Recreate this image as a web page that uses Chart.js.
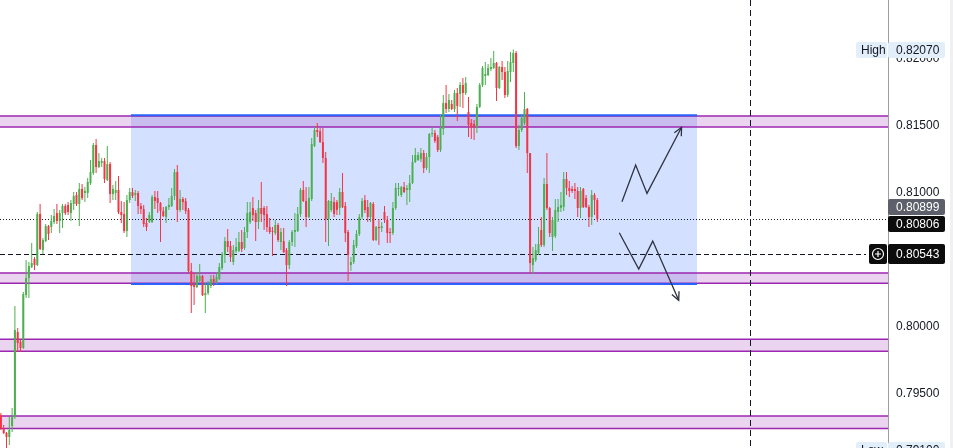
<!DOCTYPE html>
<html>
<head>
<meta charset="utf-8">
<script src="https://cdn.jsdelivr.net/npm/chart.js@4.4.1/dist/chart.umd.min.js"></script>
<style>
  body { margin: 0; background: #fff; }
  #wrap { width: 953px; height: 448px; position: relative; }
</style>
</head>
<body>
<div id="wrap"><canvas id="chart"></canvas></div>
<script>
// candle prices, one entry per bar, left to right
const opens = [
  0.79343,0.79246,0.79209,0.79179,0.79261,0.79328,0.79962,0.79888,0.79843,0.80238,
  0.80365,0.80447,0.80507,0.80462,0.80843,0.80574,0.80641,0.80753,0.80746,0.80783,
  0.80850,0.80791,0.80850,0.80903,0.80910,0.80850,0.80918,0.80985,0.80918,0.81030,
  0.81000,0.81000,0.81074,0.81149,0.81358,0.81194,0.81224,0.81238,0.81097,0.81216,
  0.80992,0.81000,0.81022,0.80858,0.80843,0.80716,0.80947,0.81007,0.80985,0.81000,
  0.80903,0.80880,0.80776,0.80783,0.80783,0.80970,0.80962,0.80925,0.80865,0.80821,
  0.80895,0.80903,0.80977,0.81156,0.80873,0.80955,0.80940,0.80873,0.80418,0.80328,
  0.80298,0.80343,0.80380,0.80238,0.80253,0.80306,0.80358,0.80335,0.80358,0.80440,
  0.80537,0.80641,0.80604,0.80485,0.80567,0.80567,0.80634,0.80589,0.80709,0.80783,
  0.80888,0.80850,0.80783,0.80888,0.80888,0.80843,0.80746,0.80716,0.80701,0.80761,
  0.80634,0.80641,0.80574,0.80462,0.80634,0.80709,0.80716,0.80843,0.81022,0.80940,
  0.80821,0.80955,0.81350,0.81470,0.81462,0.81380,0.81261,0.80806,0.80873,0.80932,
  0.80932,0.80888,0.81007,0.80903,0.80709,0.80462,0.80485,0.80604,0.80694,0.80821,
  0.80947,0.80895,0.80821,0.80918,0.80649,0.80746,0.80738,0.80858,0.80798,0.80709,
  0.80701,0.80888,0.81030,0.80985,0.81044,0.81022,0.81022,0.81074,0.81231,0.81246,
  0.81253,0.81298,0.81186,0.81268,0.81440,0.81448,0.81418,0.81321,0.81477,0.81671,
  0.81627,0.81664,0.81627,0.81746,0.81739,0.81806,0.81746,0.81604,0.81522,0.81515,
  0.81492,0.81642,0.81806,0.81873,0.81880,0.81925,0.81933,0.81970,0.81783,0.81940,
  0.81903,0.81731,0.81903,0.81970,0.82044,0.81350,0.81470,0.81522,0.81627,0.81298,
  0.80462,0.80500,0.80552,0.80724,0.80612,0.81067,0.80888,0.80671,0.80679,0.80858,
  0.80888,0.80895,0.81104,0.81037,0.81030,0.81030,0.81015,0.80888,0.81030,0.80962,
  0.80895,0.80821,0.80985,0.80947
];
const highs = [
  0.79358,0.79268,0.79216,0.79328,0.79395,0.80156,0.79992,0.79903,0.80261,0.80500,
  0.80485,0.80627,0.80522,0.80858,0.80918,0.80664,0.80768,0.80761,0.80835,0.80880,
  0.80918,0.80873,0.80918,0.80918,0.80932,0.80947,0.81007,0.81007,0.81074,0.81067,
  0.81044,0.81112,0.81246,0.81373,0.81403,0.81298,0.81261,0.81261,0.81350,0.81231,
  0.81059,0.81089,0.81127,0.80940,0.80932,0.80985,0.81037,0.81037,0.81022,0.81015,
  0.80925,0.80910,0.80813,0.80858,0.80985,0.81015,0.81015,0.80932,0.80895,0.80903,
  0.80962,0.81037,0.81179,0.81209,0.81022,0.80970,0.80962,0.80888,0.80477,0.80403,
  0.80410,0.80470,0.80388,0.80328,0.80343,0.80388,0.80388,0.80410,0.80477,0.80559,
  0.80671,0.80731,0.80641,0.80612,0.80664,0.80709,0.80724,0.80746,0.80932,0.80932,
  0.80970,0.80873,0.80947,0.81082,0.80903,0.80903,0.80813,0.80746,0.80798,0.80776,
  0.80738,0.80738,0.80589,0.80649,0.80724,0.80850,0.80895,0.81037,0.81089,0.81044,
  0.81044,0.81410,0.81492,0.81522,0.81485,0.81485,0.81306,0.80947,0.81000,0.80970,
  0.80947,0.81037,0.81149,0.80932,0.80724,0.80522,0.80649,0.80724,0.80843,0.80962,
  0.80985,0.80947,0.80932,0.80932,0.80753,0.80806,0.80783,0.80903,0.80828,0.80738,
  0.80932,0.81074,0.81074,0.81052,0.81082,0.81059,0.81134,0.81283,0.81335,0.81306,
  0.81335,0.81321,0.81298,0.81448,0.81492,0.81470,0.81433,0.81582,0.81731,0.81806,
  0.81739,0.81694,0.81768,0.81783,0.81828,0.81858,0.81865,0.81716,0.81552,0.81544,
  0.81664,0.81821,0.81948,0.81977,0.81962,0.82007,0.82059,0.81977,0.81948,0.81985,
  0.81940,0.81985,0.82052,0.82070,0.82059,0.81507,0.81582,0.81753,0.81634,0.81298,
  0.80597,0.80619,0.80746,0.80821,0.81112,0.81298,0.80895,0.80821,0.80955,0.80955,
  0.81007,0.81156,0.81156,0.81089,0.81052,0.81074,0.81044,0.81044,0.81037,0.80985,
  0.80910,0.81022,0.81000,0.80962
];
const lows = [
  0.79231,0.79201,0.79097,0.79119,0.79216,0.79313,0.79813,0.79813,0.79835,0.80216,
  0.80216,0.80440,0.80425,0.80455,0.80574,0.80544,0.80634,0.80649,0.80701,0.80768,
  0.80768,0.80701,0.80738,0.80835,0.80835,0.80791,0.80873,0.80903,0.80753,0.80947,
  0.80932,0.80962,0.81059,0.81134,0.81149,0.81186,0.81194,0.81074,0.81089,0.80925,
  0.80947,0.80947,0.80843,0.80776,0.80701,0.80671,0.80925,0.80962,0.80940,0.80843,
  0.80843,0.80746,0.80716,0.80776,0.80776,0.80880,0.80850,0.80634,0.80821,0.80776,
  0.80873,0.80895,0.80947,0.80783,0.80858,0.80873,0.80843,0.80403,0.80104,0.80164,
  0.80291,0.80335,0.80231,0.80104,0.80238,0.80291,0.80306,0.80321,0.80350,0.80425,
  0.80477,0.80559,0.80485,0.80462,0.80552,0.80559,0.80559,0.80574,0.80664,0.80768,
  0.80791,0.80641,0.80731,0.80783,0.80724,0.80709,0.80694,0.80530,0.80686,0.80634,
  0.80574,0.80552,0.80306,0.80432,0.80604,0.80597,0.80709,0.80821,0.80932,0.80746,
  0.80813,0.80940,0.81343,0.81418,0.81373,0.81224,0.80634,0.80604,0.80858,0.80821,
  0.80835,0.80835,0.80888,0.80634,0.80343,0.80418,0.80470,0.80589,0.80679,0.80806,
  0.80850,0.80783,0.80783,0.80641,0.80641,0.80612,0.80709,0.80776,0.80627,0.80627,
  0.80686,0.80873,0.80977,0.80970,0.81000,0.80910,0.80932,0.81067,0.81224,0.81238,
  0.81231,0.81149,0.81171,0.81149,0.81418,0.81373,0.81306,0.81306,0.81433,0.81597,
  0.81604,0.81619,0.81604,0.81537,0.81642,0.81634,0.81731,0.81418,0.81403,0.81395,
  0.81448,0.81634,0.81791,0.81806,0.81873,0.81910,0.81925,0.81686,0.81776,0.81843,
  0.81709,0.81716,0.81828,0.81903,0.81335,0.81321,0.81455,0.81507,0.81149,0.80403,
  0.80395,0.80485,0.80537,0.80597,0.80597,0.80873,0.80671,0.80567,0.80664,0.80783,
  0.80858,0.80865,0.80985,0.80970,0.81000,0.80955,0.80821,0.80813,0.80888,0.80888,
  0.80746,0.80761,0.80835,0.80783
];
const closes = [
  0.79246,0.79209,0.79179,0.79231,0.79328,0.79977,0.79880,0.79843,0.80246,0.80365,
  0.80455,0.80477,0.80462,0.80843,0.80582,0.80649,0.80753,0.80694,0.80791,0.80828,
  0.80791,0.80850,0.80903,0.80850,0.80858,0.80925,0.80977,0.80918,0.81030,0.80962,
  0.81015,0.81082,0.81156,0.81358,0.81194,0.81238,0.81238,0.81104,0.81216,0.80992,
  0.81030,0.81022,0.80858,0.80835,0.80716,0.80947,0.81007,0.80977,0.81000,0.80903,
  0.80880,0.80768,0.80746,0.80835,0.80970,0.80940,0.80925,0.80865,0.80828,0.80895,
  0.80910,0.80977,0.81156,0.80873,0.80955,0.80932,0.80865,0.80418,0.80306,0.80298,
  0.80380,0.80380,0.80238,0.80253,0.80313,0.80358,0.80335,0.80373,0.80447,0.80544,
  0.80641,0.80597,0.80522,0.80574,0.80597,0.80634,0.80582,0.80709,0.80850,0.80858,
  0.80835,0.80783,0.80888,0.80843,0.80835,0.80746,0.80709,0.80709,0.80761,0.80649,
  0.80709,0.80559,0.80462,0.80634,0.80709,0.80724,0.80843,0.81022,0.80940,0.80821,
  0.80962,0.81365,0.81470,0.81455,0.81380,0.81261,0.80806,0.80940,0.80940,0.80843,
  0.80873,0.81007,0.80895,0.80701,0.80537,0.80485,0.80612,0.80694,0.80821,0.80940,
  0.80873,0.80821,0.80925,0.80649,0.80746,0.80738,0.80753,0.80798,0.80701,0.80701,
  0.80888,0.81037,0.81037,0.81044,0.81007,0.81037,0.81074,0.81231,0.81283,0.81283,
  0.81298,0.81186,0.81268,0.81440,0.81448,0.81388,0.81321,0.81485,0.81671,0.81627,
  0.81694,0.81627,0.81746,0.81649,0.81806,0.81746,0.81821,0.81507,0.81492,0.81492,
  0.81642,0.81806,0.81933,0.81888,0.81933,0.81940,0.81970,0.81783,0.81940,0.81903,
  0.81731,0.81910,0.81977,0.82044,0.81350,0.81470,0.81559,0.81627,0.81298,0.80477,
  0.80515,0.80574,0.80619,0.80612,0.81067,0.80888,0.80701,0.80798,0.80873,0.80895,
  0.80910,0.81104,0.81037,0.81015,0.81015,0.81015,0.80888,0.81015,0.80895,0.80895,
  0.80821,0.80985,0.80947,0.80806
];

// price axis
const priceMin = 0.79097;
const priceMax = 0.82440;
const priceStep = 0.005;
const hiddenTicks = [0.805];

// bar index range shown
const barMin = -0.32;
const barMax = 316.82;

// drawings
const zones = [[0.81575, 0.81493], [0.80403, 0.80326], [0.79908, 0.79819], [0.79336, 0.79242]];
const rangeBox = { left: 46.46, right: 248.6, top: 0.81580, bottom: 0.80321 };
const lastPrice = 0.80806;
const markPrice = 0.80543;
const sessionLine = 267.5;
const upPathX = [221.8, 226.7, 230.75, 243.1];
const upPathY = [0.80935, 0.81209, 0.80997, 0.81490];
const downPathX = [220.86, 227.8, 232.8, 242.07];
const downPathY = [0.80703, 0.80432, 0.80641, 0.80199];

// right scale tags
const tags = [
  { price: 0.82070, text: '0.82070', title: 'High', bg: '#e3eefb', fg: '#131722', shift: 0 },
  { price: 0.80899, text: '0.80899', bg: '#5d606b', fg: '#ffffff', shift: 0 },
  { price: 0.80806, text: '0.80806', bg: '#0c0c0c', fg: '#ffffff', shift: 5 },
  { price: 0.80543, text: '0.80543', bg: '#0c0c0c', fg: '#ffffff', shift: 0, icon: true },
  { price: 0.79100, text: '0.79100', title: 'Low', bg: '#e3eefb', fg: '#131722', shift: 2 }
];

const UP = '#4caf50';
const DOWN = '#f23645';
const FONT = '12px "Liberation Sans", Arial, sans-serif';

const wicks = opens.map((o, i) => ({ x: i, y: [lows[i], highs[i]] }));
const bodies = opens.map((o, i) => ({ x: i, y: [Math.min(o, closes[i]), Math.max(o, closes[i])] }));
const candleColor = ctx => closes[ctx.dataIndex] >= opens[ctx.dataIndex] ? UP : DOWN;

function hline(ctx, y, x0, x1, dash, color, width) {
  ctx.beginPath();
  ctx.setLineDash(dash);
  ctx.strokeStyle = color;
  ctx.lineWidth = width;
  ctx.moveTo(x0, y);
  ctx.lineTo(x1, y);
  ctx.stroke();
  ctx.setLineDash([]);
}

function arrowHead(ctx, x0, y0, x1, y1) {
  const a = Math.atan2(y1 - y0, x1 - x0);
  const len = 9;
  ctx.beginPath();
  ctx.moveTo(x1 - len * Math.cos(a - 0.45), y1 - len * Math.sin(a - 0.45));
  ctx.lineTo(x1, y1);
  ctx.lineTo(x1 - len * Math.cos(a + 0.45), y1 - len * Math.sin(a + 0.45));
  ctx.stroke();
}

const drawings = {
  id: 'drawings',
  beforeDatasetsDraw(chart) {
    const { ctx, chartArea: area, scales: { x, y } } = chart;
    ctx.save();

    // range box
    const bl = x.getPixelForValue(rangeBox.left);
    const br = x.getPixelForValue(rangeBox.right);
    const bt = y.getPixelForValue(rangeBox.top);
    const bb = y.getPixelForValue(rangeBox.bottom);
    ctx.fillStyle = 'rgba(41, 98, 255, 0.2)';
    ctx.fillRect(bl, bt, br - bl, bb - bt);

    // support / resistance zones
    zones.forEach(z => {
      const t = y.getPixelForValue(z[0]);
      const b = y.getPixelForValue(z[1]);
      ctx.fillStyle = 'rgba(156, 39, 176, 0.2)';
      ctx.fillRect(area.left, t, area.right - area.left, b - t);
      hline(ctx, t, area.left, area.right, [], '#9c27b0', 1.5);
      hline(ctx, b, area.left, area.right, [], '#9c27b0', 1.5);
    });

    hline(ctx, bt, bl, br, [], '#2962ff', 2);
    hline(ctx, bb, bl, br, [], '#2962ff', 2);

    // price lines
    hline(ctx, Math.round(y.getPixelForValue(lastPrice)) + 0.5, area.left, area.right, [1, 2], '#131722', 1);
    hline(ctx, Math.round(y.getPixelForValue(markPrice)) + 0.5, area.left, area.right - 22, [5, 3], '#131722', 1);

    // vertical session line
    const vx = Math.round(x.getPixelForValue(sessionLine)) + 0.5;
    ctx.beginPath();
    ctx.setLineDash([6, 4]);
    ctx.strokeStyle = '#131722';
    ctx.lineWidth = 1;
    ctx.moveTo(vx, area.top);
    ctx.lineTo(vx, area.bottom);
    ctx.stroke();
    ctx.restore();
  },
  afterDatasetsDraw(chart) {
    const { ctx, scales: { x, y } } = chart;
    ctx.save();
    ctx.strokeStyle = '#2f3240';
    ctx.lineWidth = 1.3;
    [[upPathX, upPathY], [downPathX, downPathY]].forEach(([px, py]) => {
      const n = px.length;
      arrowHead(ctx, x.getPixelForValue(px[n - 2]), y.getPixelForValue(py[n - 2]),
        x.getPixelForValue(px[n - 1]), y.getPixelForValue(py[n - 1]));
    });
    ctx.restore();
  },
  afterDraw(chart) {
    const { ctx, chartArea: area, scales: { y } } = chart;
    ctx.save();
    ctx.font = FONT;
    ctx.textBaseline = 'middle';

    // scrollbar strip at the far right
    ctx.fillStyle = '#f0f0f2';
    ctx.fillRect(950, 0, 3, chart.height);

    tags.forEach(t => {
      const yc = Math.round(y.getPixelForValue(t.price)) + t.shift;
      const h = t.icon ? 20 : 16;
      ctx.fillStyle = t.bg;
      ctx.beginPath();
      ctx.roundRect(area.right, yc - h / 2, 57, h, 2);
      ctx.fill();
      ctx.fillStyle = t.fg;
      ctx.fillText(t.text, area.right + 8, yc + 0.5);
      if (t.title) {
        ctx.fillStyle = t.bg;
        ctx.beginPath();
        ctx.roundRect(area.right - 32, yc - h / 2, 31, h, 2);
        ctx.fill();
        ctx.fillStyle = t.fg;
        ctx.fillText(t.title, area.right - 27, yc + 0.5);
      }
      if (t.icon) {
        ctx.fillStyle = t.bg;
        ctx.beginPath();
        ctx.roundRect(area.right - 19, yc - h / 2, 18, h, 2);
        ctx.fill();
        const cx = area.right - 10;
        ctx.strokeStyle = '#ffffff';
        ctx.lineWidth = 1.2;
        ctx.beginPath();
        ctx.arc(cx, yc, 5.5, 0, Math.PI * 2);
        ctx.moveTo(cx - 3, yc);
        ctx.lineTo(cx + 3, yc);
        ctx.moveTo(cx, yc - 3);
        ctx.lineTo(cx, yc + 3);
        ctx.stroke();
      }
    });
    ctx.restore();
  }
};

new Chart(document.getElementById('chart'), {
  type: 'bar',
  data: {
    datasets: [
      {
        type: 'line',
        data: upPathX.map((v, i) => ({ x: v, y: upPathY[i] })),
        borderColor: '#2f3240',
        borderWidth: 1.3,
        pointRadius: 0,
        tension: 0
      },
      {
        type: 'line',
        data: downPathX.map((v, i) => ({ x: v, y: downPathY[i] })),
        borderColor: '#2f3240',
        borderWidth: 1.3,
        pointRadius: 0,
        tension: 0
      },
      {
        data: bodies,
        backgroundColor: candleColor,
        barThickness: 2,
        minBarLength: 1,
        grouped: false,
        inflateAmount: 0,
        borderWidth: 0
      },
      {
        data: wicks,
        backgroundColor: candleColor,
        barThickness: 1,
        grouped: false,
        inflateAmount: 0,
        borderWidth: 0
      }
    ]
  },
  options: {
    responsive: true,
    maintainAspectRatio: false,
    animation: false,
    devicePixelRatio: 1,
    layout: { padding: 0 },
    plugins: { legend: { display: false }, tooltip: { enabled: false } },
    scales: {
      x: {
        type: 'linear',
        display: false,
        min: barMin,
        max: barMax,
        offset: false
      },
      y: {
        position: 'right',
        min: priceMin,
        max: priceMax,
        grid: { display: false, drawTicks: false },
        border: { display: true, color: '#9a9da6', width: 1 },
        afterFit: scale => {
          scale.width = 65;
          scale.paddingTop = 0;
          scale.paddingBottom = 0;
        },
        ticks: {
          stepSize: priceStep,
          includeBounds: false,
          padding: 8,
          color: '#131722',
          font: { family: '"Liberation Sans", Arial, sans-serif', size: 12 },
          callback: v => hiddenTicks.some(h => Math.abs(h - v) < 1e-7) ? '' : v.toFixed(5)
        }
      }
    }
  },
  plugins: [drawings]
});
</script>
</body>
</html>
